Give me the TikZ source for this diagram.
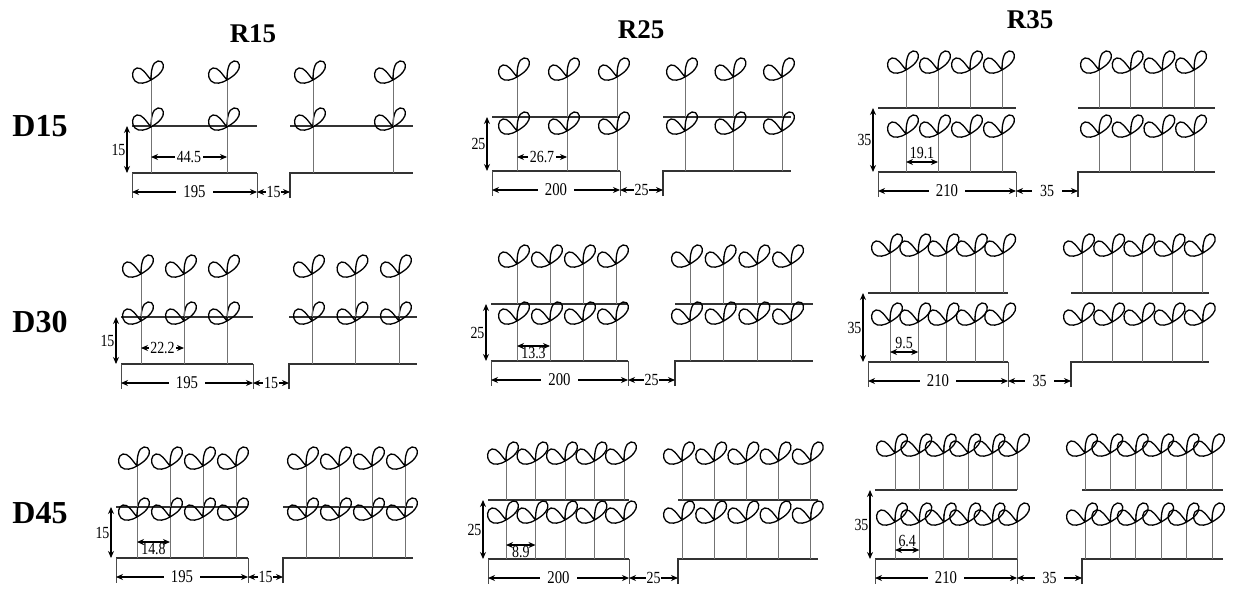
\documentclass[tikz,border=0pt]{standalone}
\usepackage{fontspec}
\setmainfont{Liberation Serif}
\newfontfamily\dimfont[FakeStretch=0.82]{Liberation Serif}
\usetikzlibrary{arrows.meta}
\tikzstyle{stem}=[draw=black!55, line width=0.8pt]
\tikzstyle{leaf}=[draw=black, line width=1.3pt]
\tikzstyle{bedline}=[draw=black!80, line width=1.4pt]
\tikzstyle{extline}=[draw=black!70, line width=0.8pt]
\tikzstyle{dim}=[draw=black, line width=1.1pt, <->]
\tikzstyle{dimmid}=[fill=white, inner xsep=1.5pt, inner ysep=0pt, font=\dimfont\fontsize{17}{17}\selectfont]
\tikzstyle{dimbelow}=[anchor=north, yshift=-1pt, inner sep=0pt, font=\dimfont\fontsize{17}{17}\selectfont]
\tikzstyle{dimabove}=[anchor=south, yshift=3pt, inner sep=0pt, font=\dimfont\fontsize{17}{17}\selectfont]
\tikzstyle{widthlbl}=[fill=white, inner xsep=7pt, inner ysep=0pt, font=\dimfont\fontsize{18}{18}\selectfont]
\tikzstyle{gaplbl}=[fill=white, inner xsep=1pt, inner ysep=0pt, font=\dimfont\fontsize{17}{17}\selectfont]
\tikzstyle{gapwide}=[fill=white, inner xsep=8pt, inner ysep=0pt, font=\dimfont\fontsize{17}{17}\selectfont]
\tikzstyle{heightlbl}=[anchor=east, xshift=-1pt, inner sep=0pt, font=\dimfont\fontsize{17}{17}\selectfont]
\tikzstyle{colhead}=[font=\bfseries\fontsize{27}{27}\selectfont]
\tikzstyle{rowhead}=[font=\bfseries\fontsize{32}{32}\selectfont]
% one seedling: x, ground y, stem length
\newcommand{\sprout}[3]{
  \draw[stem] (#1,#2) -- ++(0,-#3-8);
  \draw[leaf, shift={(#1,#2-#3)}]
    (0,0) .. controls (-5,-6) and (-9,-13) .. (-14,-12) .. controls (-19,-11) and (-20,-3) .. (-16,1)
          .. controls (-12,5) and (-5,3) .. (0,0)
    (0,0) .. controls (0,-8) and (1,-18) .. (7,-19) .. controls (13,-20) and (14,-12) .. (10,-8)
          .. controls (7,-4) and (3,-2) .. (0,0);
}

\begin{document}
\begin{tikzpicture}[x=1pt, y=-1pt, >={Stealth[length=7pt,width=6pt]}]
\useasboundingbox (0,0) rectangle (1233,589);
\node[colhead] (r15) at (253,34) {R15};
\node[colhead] (r25) at (641,30) {R25};
\node[colhead] (r35) at (1030,20) {R35};
\node[rowhead] (d15) at (40,126) {D15};
\node[rowhead] (d30) at (40,322) {D30};
\node[rowhead] (d45) at (40,513) {D45};
% panels: beds, seedlings and dimensions
\foreach \i/\xa/\xb/\xc/\xd/\yb/\ym/\pa/\pd/\qa/\qd/\n/\st/\wl/\gl/\gs/\slab/\sy/\sst in {
  1/132/257/290/413/173/126/151/76/313/80/2/46/195/15/gaplbl/44.5/157/dimmid,
  2/121/253/289/417/364/317/141/43/312/43.5/3/43/195/15/gaplbl/22.2/348/dimmid,
  3/116/248/283/413/558/507/137/33/306/33/4/41/195/15/gaplbl/14.8/542/dimbelow,
  4/492/620/663/791/171/117/517/50/685/48.5/3/40/200/25/gaplbl/26.7/157/dimmid,
  5/491/628/675/813/361/304/517/33/690/33.7/4/40/200/25/gaplbl/13.3/346/dimbelow,
  6/488/629/678/818/559/500/506/29.5/682/32.2/5/39/200/25/gaplbl/8.9/545/dimbelow,
  7/878/1016/1078/1215/172/108/906/32/1099/31.7/4/38/210/35/gapwide/19.1/162/dimabove,
  8/868/1008/1071/1209/362/293/890/28.3/1082/30.2/5/40/210/35/gapwide/9.5/352/dimabove,
  9/875/1017/1082/1223/559/490/895/24.4/1085/25.4/6/37/210/35/gapwide/6.4/550/dimabove}
{
  \draw[bedline] (\xa,\yb) -- (\xb,\yb) (\xa,\ym) -- (\xb,\ym);
  \draw[bedline] (\xc,\yb+25) -- (\xc,\yb) -- (\xd,\yb) (\xc,\ym) -- (\xd,\ym);
  \draw[extline] (\xa,\yb) -- (\xa,\yb+25) (\xb,\yb) -- (\xb,\yb+25);
  \foreach \k [evaluate=\k as \px using \pa+(\k-1)*\pd] in {1,...,\n}
    {\sprout{\px}{\yb}{\st} \sprout{\px}{\ym}{\st}}
  \foreach \k [evaluate=\k as \px using \qa+(\k-1)*\qd] in {1,...,\n}
    {\sprout{\px}{\yb}{\st} \sprout{\px}{\ym}{\st}}
  \coordinate (wa\i) at (\xa,\yb+19);
  \coordinate (wb\i) at (\xb,\yb+19);
  \coordinate (wc\i) at (\xc,\yb+19);
  \coordinate (hu\i) at (\xa-5,\ym);
  \coordinate (hd\i) at (\xa-5,\yb);
  \coordinate (sa\i) at (\pa,\sy);
  \coordinate (sb\i) at (\pa+\pd,\sy);
  \draw[dim] (wa\i) -- node[widthlbl] (wt\i) {\wl} (wb\i);
  \draw[dim] (wb\i) -- node[\gs] (gt\i) {\gl} (wc\i);
  \draw[dim] (hu\i) -- node[heightlbl] (ht\i) {\gl} (hd\i);
  \draw[dim] (sa\i) -- node[\sst] (lab\i) {\slab} (sb\i);
}
\end{tikzpicture}
\end{document}
